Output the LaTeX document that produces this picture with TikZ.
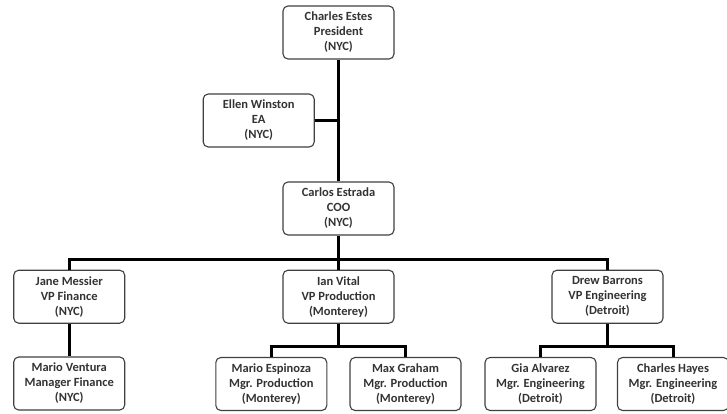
\documentclass[tikz,border=0pt]{standalone}
\usepackage{fontspec}
\setmainfont{Carlito}
\def\link{\draw[line width=3pt]}
\def\who#1#2#3{\textbf{#1}\\\textbf{#2}\\\textbf{(#3)}}

\begin{document}
\begin{tikzpicture}[x=1pt,y=-1pt,
    person/.style={draw=black!75,line width=1.1pt,rounded corners=5pt,fill=white,
        minimum width=111pt,minimum height=53pt,align=center,text=black!80,
        inner sep=1pt,font=\fontsize{12.5}{15}\selectfont}]
                \useasboundingbox (0,0) rectangle (727,413);
                \node[person] (pres) at (338.5,32.5) {\who{Charles Estes}{President}{NYC}};
                \node[person] (ea) at (258.7,120.5) {\who{Ellen Winston}{EA}{NYC}};
                \node[person] (coo) at (338.5,208.5) {\who{Carlos Estrada}{COO}{NYC}};
                \node[person] (jane) at (69.2,296.7) {\who{Jane Messier}{VP Finance}{NYC}};
                \node[person] (ian) at (338.5,296.7) {\who{Ian Vital}{VP Production}{Monterey}};
                \node[person] (drew) at (607.5,296.7) {\who{Drew Barrons}{VP Engineering}{Detroit}};
                \node[person] (ventura) at (69.2,383.5) {\who{Mario Ventura}{Manager Finance}{NYC}};
                \node[person] (espinoza) at (271.3,384) {\who{Mario Espinoza}{Mgr. Production}{Monterey}};
                \node[person] (graham) at (405.5,384) {\who{Max Graham}{Mgr. Production}{Monterey}};
                \node[person] (gia) at (540.5,384) {\who{Gia Alvarez}{Mgr. Engineering}{Detroit}};
                \node[person] (hayes) at (673,384) {\who{Charles Hayes}{Mgr. Engineering}{Detroit}};
                \coordinate (bus) at (338.5,259.3);
                \coordinate (ibus) at (338.5,346.7);
                \coordinate (dbus) at (607.5,346.7);
                % connectors
                \link (pres) -- (coo);
                \link (ea.east) -- (ea.east -| pres.south);
                \link (coo) -- (ian);
                \link (jane.north) |- (bus) -| (drew.north);
                \link (jane) -- (ventura);
                \link (ian) -- (ibus);
                \link (espinoza.north) |- (ibus) -| (graham.north);
                \link (drew) -- (dbus);
                \link (gia.north) |- (dbus) -| (hayes.north);
            \end{tikzpicture}
\end{document}
